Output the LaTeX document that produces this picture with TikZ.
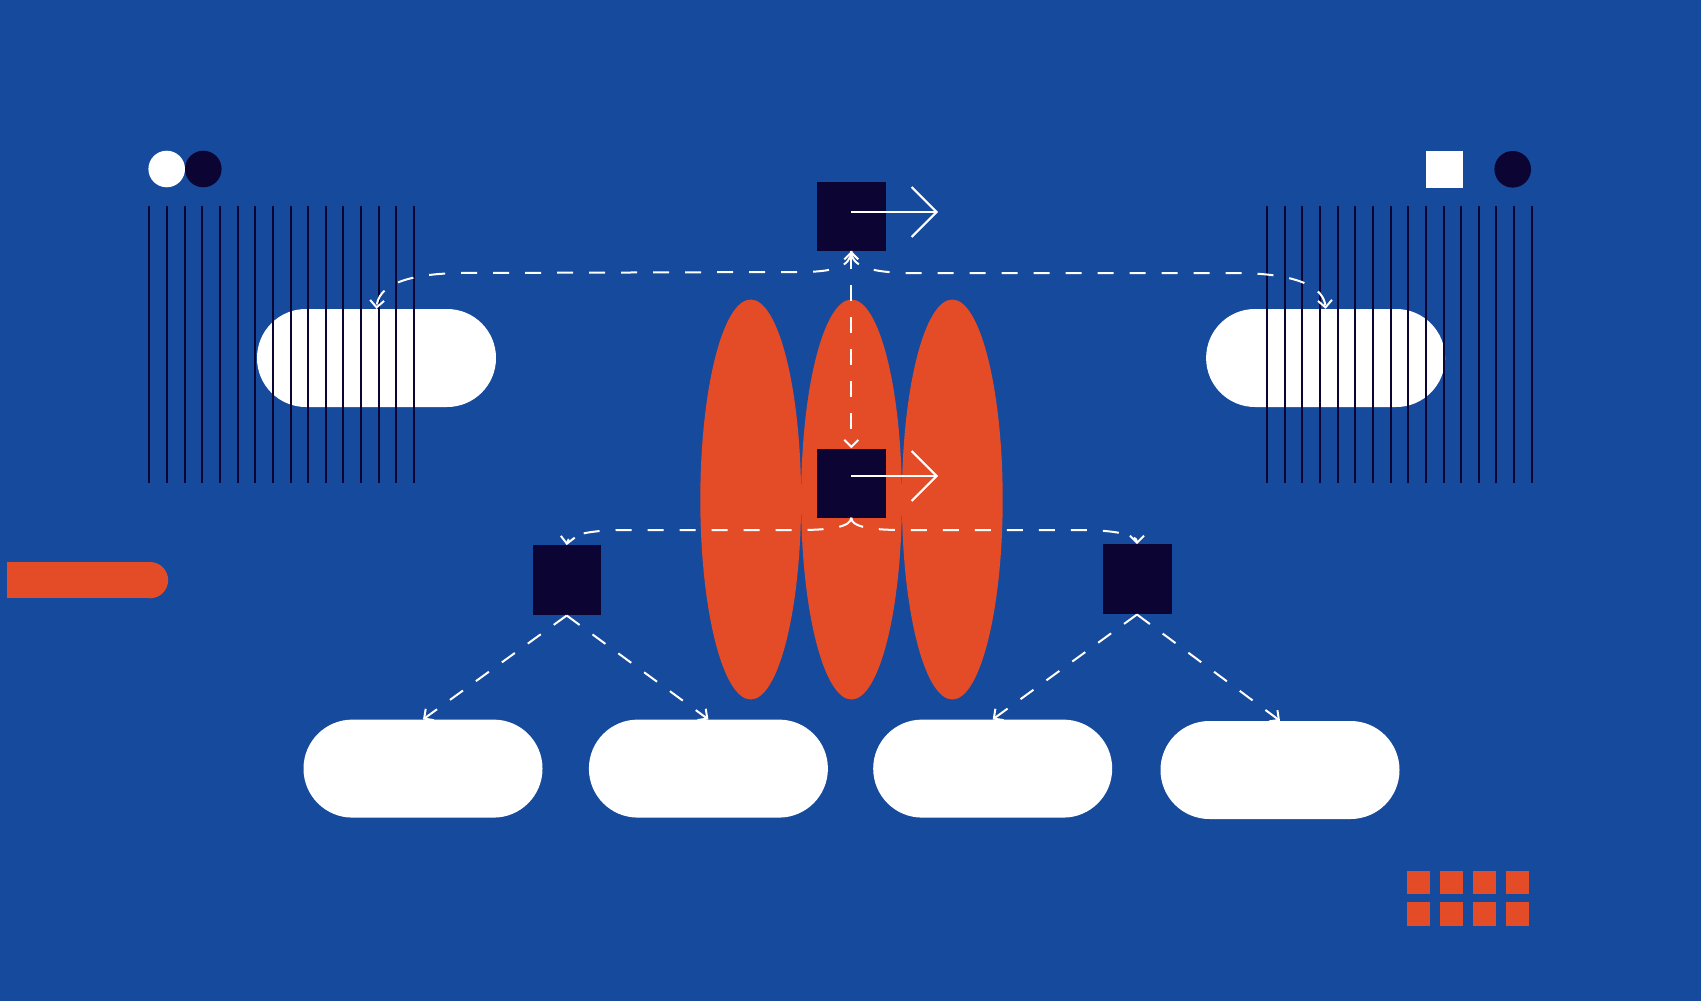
\documentclass[tikz,border=0pt]{standalone}
\usetikzlibrary{arrows.meta}
\definecolor{bg}{HTML}{164A9C}
\definecolor{org}{HTML}{E34C26}
\definecolor{navy}{HTML}{0C0432}
\begin{document}
\begin{tikzpicture}[x=1pt,y=-1pt,
 pill/.style={fill=white, rounded corners=48.9pt, minimum width=239pt, minimum height=98pt, inner sep=0pt},
 sqbox/.style={fill=navy, minimum size=69pt, inner sep=0pt},
 dsh/.style={white, line width=2pt, dash pattern=on 16pt off 16pt},
 tipd/.style={-{Straight Barb[length=7pt,width=14pt]}},
 tipdd/.style={{Straight Barb[length=7pt,width=14pt]}-{Straight Barb[length=7pt,width=14pt]}},
 bigarrow/.style={white, line width=2pt, -{Straight Barb[length=25pt,width=50pt]}},
 vline/.style={navy, line width=2pt}]
\useasboundingbox (0,0) rectangle (1701,1001);
\fill[bg] (0,0) rectangle (1701,1001);
% ellipses
\fill[org] (750.7,499.5) ellipse [x radius=50.4, y radius=200];
\fill[org] (851.5,499.5) ellipse [x radius=50.4, y radius=200];
\fill[org] (952.3,499.5) ellipse [x radius=50.4, y radius=200];
% top pills
\node[pill] (pL) at (376.5,358) {};
\node[pill] (pR) at (1325.6,358) {};
% vertical lines
\foreach \i in {0,...,15} {
  \draw[vline] ({149.3+17.65*\i},206) -- ++(0,277);
  \draw[vline] ({1267+17.65*\i},206) -- ++(0,277);
}
% bottom pills
\node[pill] (b1) at (423,768.6) {};
\node[pill] (b2) at (708.4,768.6) {};
\node[pill] (b3) at (992.7,768.6) {};
\node[pill] (b4) at (1280,770) {};
% decorations
\fill[white] (166.7,169) circle (18.3);
\fill[navy] (203.3,169) circle (18.3);
\fill[white] (1426,151) rectangle (1462.7,187.7);
\fill[navy] (1512.7,169.3) circle (18.3);
\fill[org] (7,562) rectangle (150,598.3);
\fill[org] (150,580.15) circle (18.15);
\foreach \i in {0,...,3} \foreach \j in {0,1}
  \fill[org] ({1406.7+33.1*\i},{871+31.3*\j}) rectangle ++(23.3,23.3);
% squares
\node[sqbox] (sqT) at (851.3,216.3) {};
\node[sqbox] (sqM) at (851.3,483) {};
\node[sqbox, minimum height=70pt, minimum width=68pt] (sqL) at (566.7,580.3) {};
\node[sqbox, minimum height=70pt, minimum width=69pt] (sqR) at (1137,579.3) {};
% dashed connectors
\draw[dsh,tipd] (sqT.south) .. controls (851,268) and (830,272) .. (800,272) -- (460,273) .. controls (400,274) and (378,288) .. (pL.north);
\draw[dsh,tipd] (sqT.south) .. controls (851,268) and (875,272) .. (905,273) -- (1240,273) .. controls (1300,274) and (1324,288) .. (pR.north);
\draw[dsh,tipdd] (sqT.south) -- (sqM.north);
\draw[dsh,tipd] (sqM.south) .. controls (851,527) and (830,530) .. (800,530) -- (625,530) .. controls (590,530) and (568,535) .. (sqL.north);
\draw[dsh,tipd] (sqM.south) .. controls (851,527) and (872,530) .. (902,530) -- (1080,530) .. controls (1115,530) and (1137,535) .. (sqR.north);
\draw[dsh,tipd] (sqL.south) -- (b1.north);
\draw[dsh,tipd] (sqL.south) -- (b2.north);
\draw[dsh,tipd] (sqR.south) -- (b3.north);
\draw[dsh,tipd] (sqR.south) -- (b4.north);
% right arrows
\coordinate (aT) at (938,212);
\coordinate (aM) at (938,476);
\draw[bigarrow] (sqT.center |- aT) -- (aT);
\draw[bigarrow] (sqM.center |- aM) -- (aM);
\end{tikzpicture}
\end{document}
